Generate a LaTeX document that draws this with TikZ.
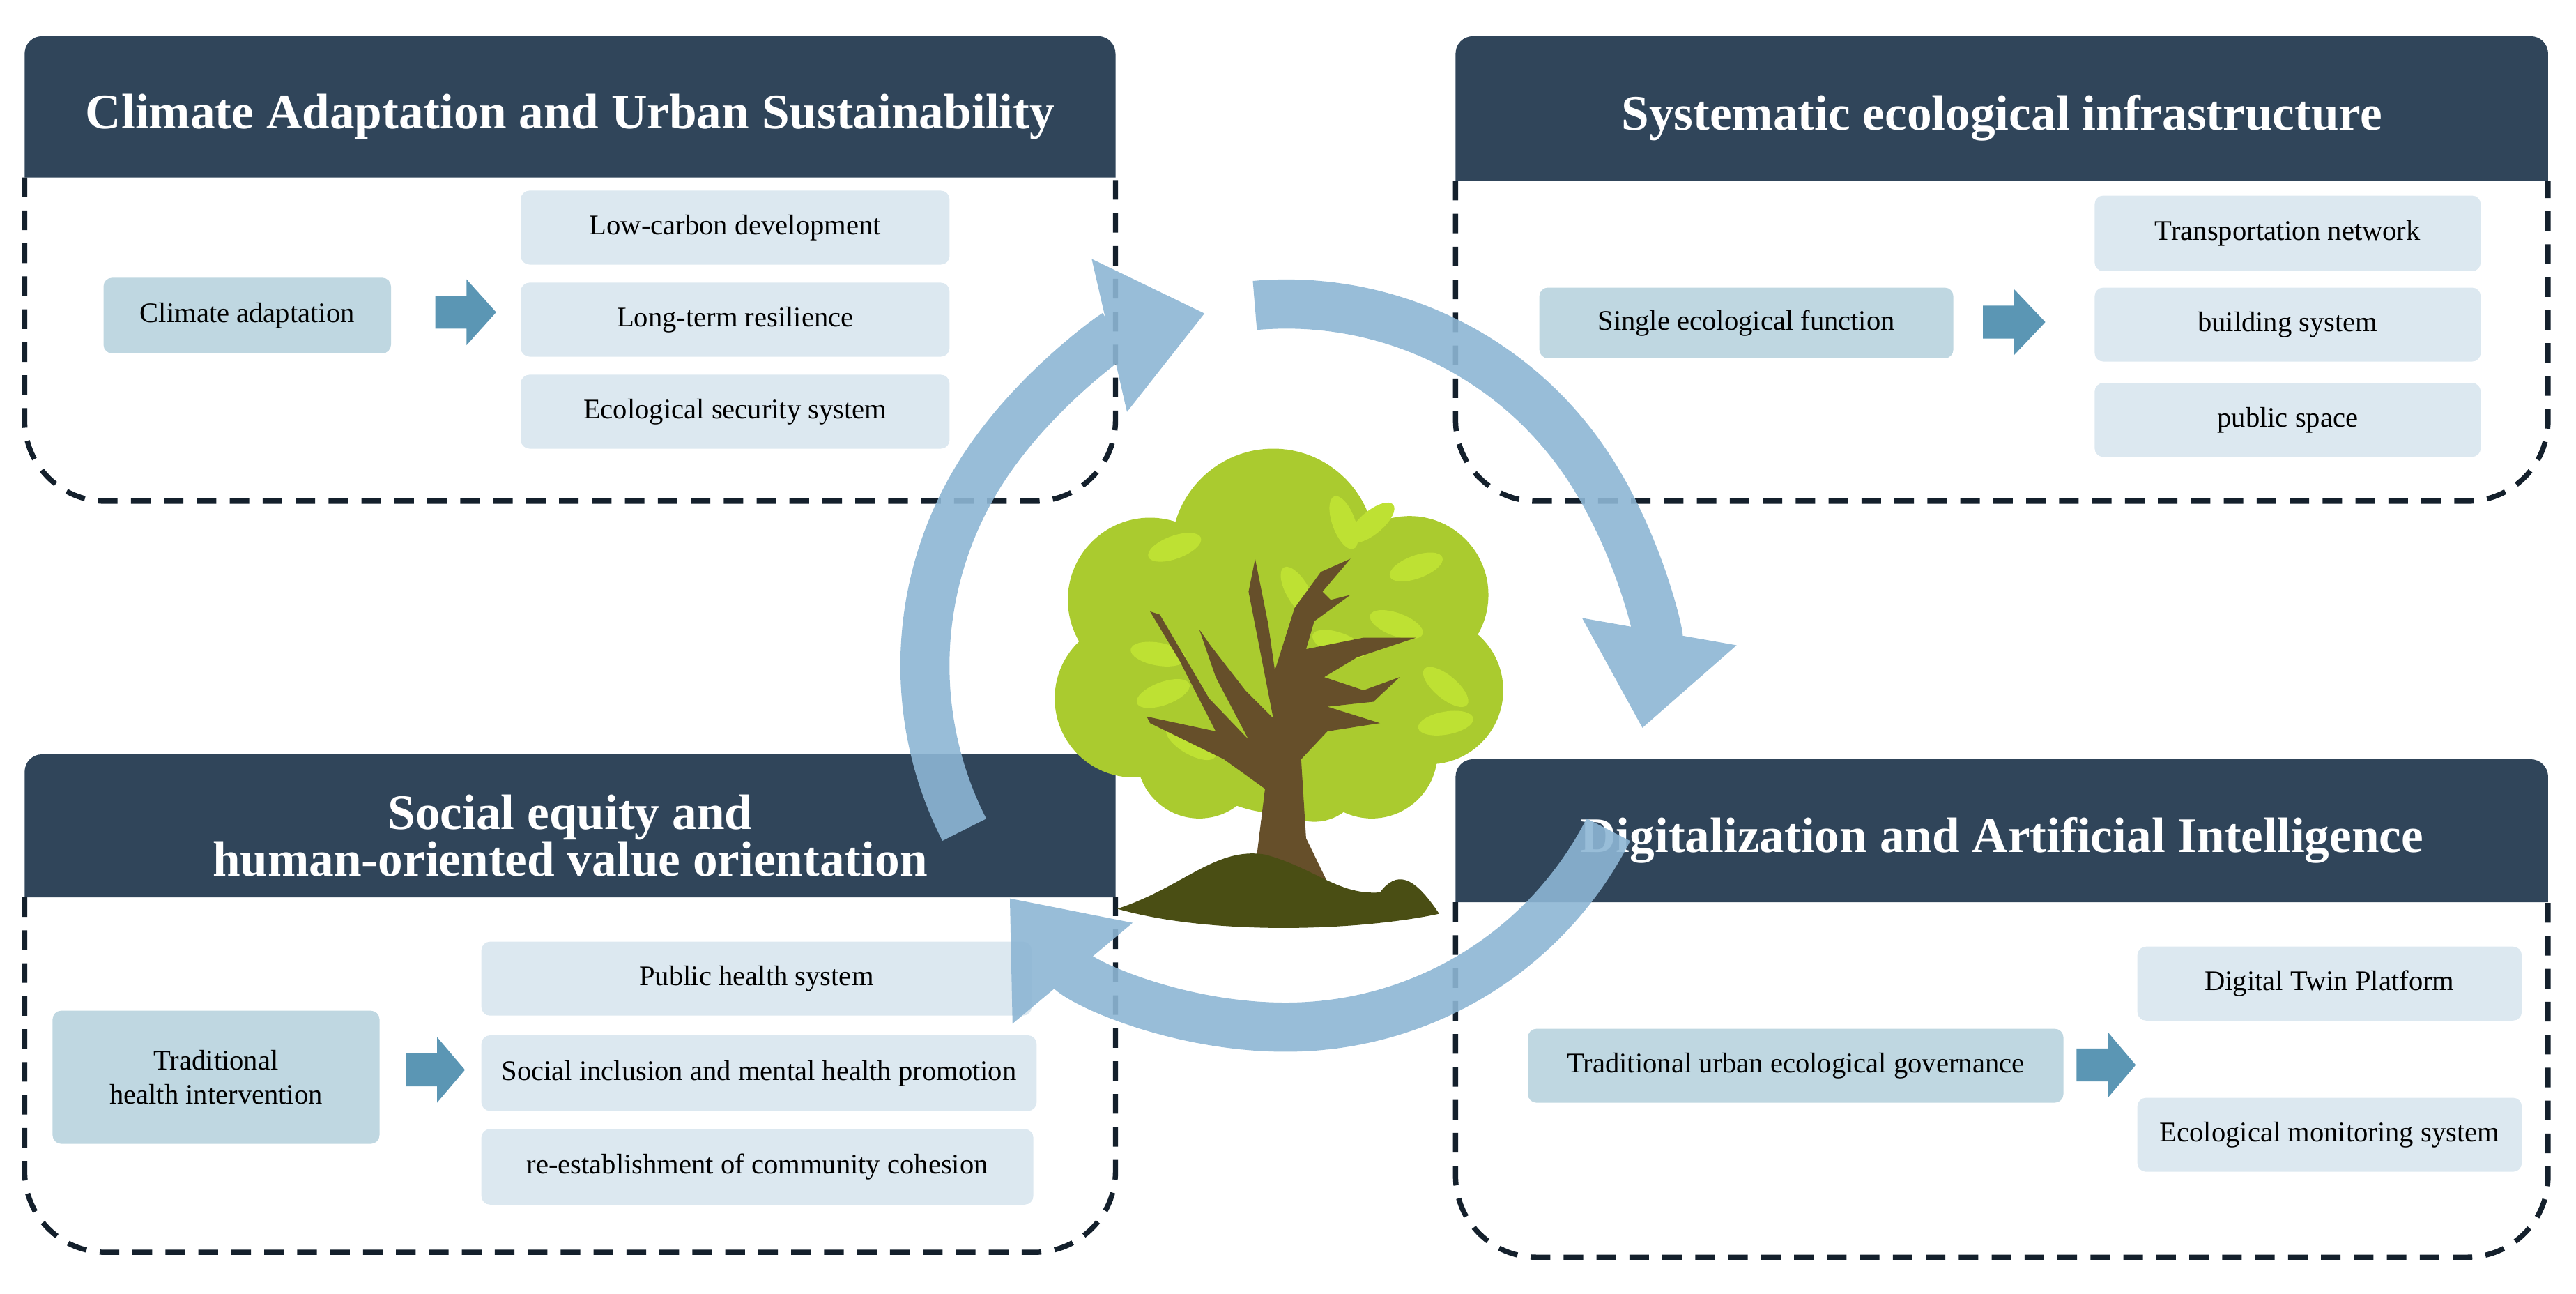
\documentclass[tikz,border=0pt]{standalone}
\usepackage{fontspec}
\setmainfont{Liberation Serif}
\usetikzlibrary{calc,arrows.meta}
\definecolor{hdr}{HTML}{30455A}
\definecolor{bxA}{HTML}{BFD7E1}
\definecolor{bxB}{HTML}{DCE8F0}
\definecolor{barr}{HTML}{5B96B4}
\definecolor{cyc}{HTML}{8DB6D4}
\definecolor{crown}{HTML}{AACB2F}
\definecolor{leaf}{HTML}{BEE133}
\definecolor{trunk}{HTML}{664F2A}
\definecolor{ground}{HTML}{4A4E14}
\definecolor{dash}{HTML}{14202C}
\tikzset{
 hdrf/.style={fill=hdr},
 body/.style={draw=dash,line width=0.9pt,dash pattern=on 3.4pt off 2.3pt,rounded corners=14pt},
 ttl/.style={text=white,font=\fontsize{8.6}{10}\selectfont\bfseries,align=center},
 btx/.style={font=\fontsize{4.9}{6}\selectfont,align=center},
 bA/.style={fill=bxA,rounded corners=1.5pt},
 bB/.style={fill=bxB,rounded corners=1.5pt},
 cy/.style={draw=cyc,line width=8.5pt,-{Triangle[width=26pt,length=17pt]}},
 cyg/.style={transparency group,opacity=0.9},
}
\newcommand{\Bx}[7]{\path[#6] (#2,#3) rectangle (#4,#5); \node[btx] (#1) at ($(#2,#3)!0.5!(#4,#5)$) {#7};}
\newcommand{\BA}[4]{\coordinate (#1) at (#2,#4); \fill[barr] (#2,#4-10) -- (#2+19,#4-10) -- (#2+19,#4-20) -- (#3,#4) -- (#2+19,#4+20) -- (#2+19,#4+10) -- (#2,#4+10) -- cycle;}
\newcommand{\Panel}[6]{%
 \fill[hdrf] (#1,#4) [rounded corners=3pt] -- (#1,#3) -- (#2,#3) [sharp corners] -- (#2,#4) -- cycle;
 \draw[body] (#1,#4) -- (#1,#5) -- (#2,#5) -- (#2,#4);
 \node[ttl] at ($(#1,#3)!0.5!(#2,#4)+(0,6)$) {#6};}
\begin{document}
\begin{tikzpicture}[x=0.01cm,y=-0.01cm]
\useasboundingbox (0,0) rectangle (1568,787);
% panels
\Panel{15}{679}{22}{108}{305}{Climate Adaptation and Urban Sustainability}
\Panel{886}{1551}{22}{110}{305}{Systematic ecological infrastructure}
\Panel{15}{679}{459}{546}{762}{Social equity and\\[-2pt]human-oriented value orientation}
\Panel{886}{1551}{462}{549}{765}{Digitalization and Artificial Intelligence}
% TL
\Bx{ca}{63}{169}{238}{215}{bA}{Climate adaptation}
\BA{a1}{265}{302}{190}
\Bx{lc}{317}{116}{578}{161}{bB}{Low-carbon development}
\Bx{lt}{317}{172}{578}{217}{bB}{Long-term resilience}
\Bx{es}{317}{228}{578}{273}{bB}{Ecological security system}
% TR
\Bx{se}{937}{175}{1189}{218}{bA}{Single ecological function}
\BA{a2}{1207}{1245}{196}
\Bx{tn}{1275}{119}{1510}{165}{bB}{Transportation network}
\Bx{bs}{1275}{175}{1510}{220}{bB}{building system}
\Bx{ps}{1275}{233}{1510}{278}{bB}{public space}
% BL
\Bx{th}{32}{615}{231}{696}{bA}{Traditional\\health intervention}
\BA{a3}{247}{283}{651}
\Bx{ph}{293}{573}{628}{618}{bB}{Public health system}
\Bx{si}{293}{630}{631}{676}{bB}{Social inclusion and mental health promotion}
\Bx{rc}{293}{687}{629}{733}{bB}{re-establishment of community cohesion}
% BR
\Bx{tu}{930}{626}{1256}{671}{bA}{Traditional urban ecological governance}
\BA{a4}{1264}{1300}{648}
\Bx{dt}{1301}{576}{1535}{621}{bB}{Digital Twin Platform}
\Bx{em}{1301}{668}{1535}{713}{bB}{Ecological monitoring system}
% tree
\begin{scope}
\fill[crown] (775,335) circle (62) (700,365) circle (50) (858,362) circle (48)
 (690,425) circle (48) (870,420) circle (45) (780,415) circle (80) (730,460) circle (38) (835,458) circle (40) (800,470) circle (30);
\foreach \x/\y/\a in {715/333/20,818/318/-70,862/345/20,850/380/-20,705/398/-10,708/422/20,880/418/-40,880/440/10,725/452/-30,835/318/40,790/360/-60,815/392/-20}
 \fill[leaf,rotate around={\a:(\x,\y)}] (\x,\y) ellipse (17 and 7);
\fill[trunk] (762,545) -- (770,480) -- (745,462) -- (700,440) -- (698,436) -- (740,445) -- (718,402) -- (700,372) -- (706,374) -- (736,425) -- (760,450) -- (740,412) -- (730,383) -- (737,393) -- (758,420) -- (775,437) -- (760,360) -- (764,340) -- (772,380) -- (776,408) -- (788,370) -- (804,348) -- (822,340) -- (805,360) -- (810,365) -- (822,362) -- (800,378) -- (795,395) -- (830,388) -- (862,388) -- (826,400) -- (806,412) -- (830,420) -- (852,412) -- (836,427) -- (808,430) -- (840,440) -- (808,445) -- (792,462) -- (795,510) -- (812,545) -- cycle;
\fill[ground] (680,553) .. controls (720,540) and (740,515) .. (770,520) .. controls (800,528) and (815,545) .. (840,543) .. controls (850,530) and (860,532) .. (876,556) .. controls (830,566) and (740,570) .. (680,553) -- cycle;
\end{scope}
% cycle arrows
\coordinate (cc) at (783,405);
\begin{scope}[cyg]
\draw[cy] ($(cc)+(153:220)$) arc[start angle=153,end angle=257,radius=220] coordinate (e1);
\end{scope}
\begin{scope}[cyg]
\draw[cy] ($(cc)+(265:220)$) arc[start angle=265,end angle=370,radius=220] coordinate (e2);
\end{scope}
\begin{scope}[cyg]
\draw[cy] ($(cc)+(27:220)$) arc[start angle=27,end angle=140,radius=220] coordinate (e3);
\end{scope}
\end{tikzpicture}
\end{document}
